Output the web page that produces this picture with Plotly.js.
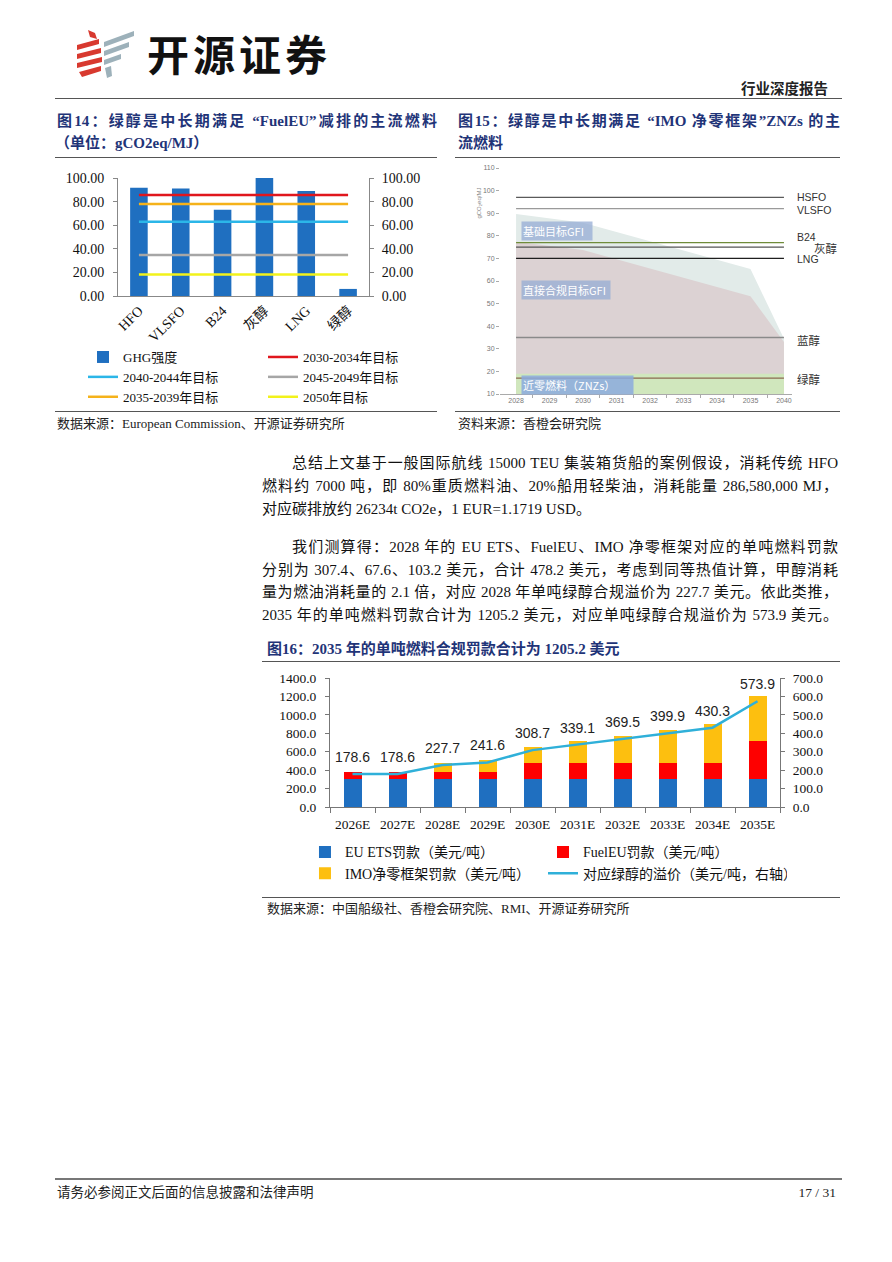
<!DOCTYPE html>
<html><head><meta charset="utf-8">
<script src="https://cdn.plot.ly/plotly-3.0.1.min.js"></script>
<style>
body{margin:0;background:#fff;}
#page{position:relative;width:892px;height:1262px;overflow:hidden;background:#fff;font-family:"Liberation Serif","Noto Sans CJK SC",serif;color:#111;}
.abs{position:absolute;white-space:nowrap;}
.hr{position:absolute;height:0;border-top:1px solid #555;}
.title{position:absolute;white-space:nowrap;font-weight:bold;color:#1f3478;font-size:15px;line-height:20px;}
.src{position:absolute;white-space:nowrap;font-size:13px;line-height:16px;color:#222;}
.ln{position:absolute;font-size:15px;line-height:22px;white-space:nowrap;color:#111;}
.j{text-align:justify;text-align-last:justify;}
.chart{position:absolute;}
</style></head>
<body>
<div id="page">
  <svg class="abs" style="left:0;top:0" width="892" height="100">
    <g fill="#d8392f">
      <polygon points="88,30 95,33 97,39 90,37"/>
      <polygon points="77,45 99,39 99,44 77,50"/>
      <polygon points="77,54 101,48 101,53 77,59"/>
      <polygon points="77,63 102,57 102,62 77,68"/>
      <polygon points="79,72 101,66 101,71 82,77"/>
    </g>
    <g fill="#9db1ba">
      <polygon points="104,42 134,31 134,36 104,47"/>
      <polygon points="104,51 129,42 129,47 104,56"/>
      <polygon points="104,60 121,54 121,59 104,65"/>
      <polygon points="105,68 111,66 112,76 107,78"/>
    </g>
  </svg>
  <div class="abs" style="left:147px;top:29px;font-family:'Noto Sans CJK SC';font-weight:bold;font-size:42px;line-height:48px;letter-spacing:4px;color:#111;">开源证券</div>
  <div class="abs" style="left:700px;width:128px;top:79px;text-align:right;font-family:'Noto Sans CJK SC';font-weight:bold;font-size:14.5px;line-height:18px;color:#222;">行业深度报告</div>
  <div class="hr" style="left:55px;width:787px;top:98px;border-top:1.5px solid #555;"></div>

  <!-- Figure 14 -->
  <div class="title j" style="left:57px;width:380px;top:111px;">图14：绿醇是中长期满足 “FuelEU”减排的主流燃料</div>
  <div class="title" style="left:55px;top:133px;">（单位：gCO2eq/MJ）</div>
  <div class="hr" style="left:55px;width:382px;top:157px;"></div>
  <div id="fig14" class="chart" style="left:9px;top:165px;width:446px;height:285px;"></div>
  <div class="hr" style="left:55px;width:382px;top:411px;"></div>
  <div class="src" style="left:57px;top:416px;">数据来源：European Commission、开源证券研究所</div>

  <!-- Figure 15 -->
  <div class="title j" style="left:458px;width:382px;top:111px;">图15：绿醇是中长期满足 “IMO 净零框架”ZNZs 的主</div>
  <div class="title" style="left:458px;top:133px;">流燃料</div>
  <div class="hr" style="left:455px;width:385px;top:157px;"></div>
  <div id="fig15" class="chart" style="left:455px;top:160px;width:385px;height:250px;"></div>
  <div class="hr" style="left:455px;width:385px;top:411px;"></div>
  <div class="src" style="left:458px;top:416px;">资料来源：香橙会研究院</div>

  <!-- Body text -->
  <div class="ln j" style="left:292px;width:546px;top:452px;">总结上文基于一般国际航线 15000 TEU 集装箱货船的案例假设，消耗传统 HFO</div>
  <div class="ln j" style="left:262px;width:576px;top:475px;">燃料约 7000 吨，即 80%重质燃料油、20%船用轻柴油，消耗能量 286,580,000 MJ，</div>
  <div class="ln" style="left:262px;top:498px;">对应碳排放约 26234t CO2e，1 EUR=1.1719 USD。</div>
  <div class="ln j" style="left:292px;width:546px;top:536px;">我们测算得：2028 年的 EU ETS、FuelEU、IMO 净零框架对应的单吨燃料罚款</div>
  <div class="ln j" style="left:262px;width:576px;top:559px;">分别为 307.4、67.6、103.2 美元，合计 478.2 美元，考虑到同等热值计算，甲醇消耗</div>
  <div class="ln j" style="left:262px;width:576px;top:581px;">量为燃油消耗量的 2.1 倍，对应 2028 年单吨绿醇合规溢价为 227.7 美元。依此类推，</div>
  <div class="ln j" style="left:262px;width:576px;top:604px;">2035 年的单吨燃料罚款合计为 1205.2 美元，对应单吨绿醇合规溢价为 573.9 美元。</div>

  <!-- Figure 16 -->
  <div class="title" style="left:267px;top:639px;">图16：2035 年的单吨燃料合规罚款合计为 1205.2 美元</div>
  <div class="hr" style="left:262px;width:578px;top:661px;"></div>
  <div id="fig16" class="chart" style="left:262px;top:668px;width:578px;height:262px;"></div>
  <div class="hr" style="left:262px;width:578px;top:897px;"></div>
  <div class="src" style="left:267px;top:901px;">数据来源：中国船级社、香橙会研究院、RMI、开源证券研究所</div>

  <!-- Footer -->
  <div class="hr" style="left:55px;width:787px;top:1178px;border-top:2px solid #777;"></div>
  <div class="src" style="left:57px;top:1185px;font-size:13.5px;">请务必参阅正文后面的信息披露和法律声明</div>
  <div class="src" style="left:760px;width:76px;top:1185px;text-align:right;font-size:13.5px;">17 / 31</div>
</div>

<script>
// ---------- Figure 14 data ----------
const fuels14 = ['HFO', 'VLSFO', 'B24', '灰醇', 'LNG', '绿醇'];
const ghg14 = [91.7, 91.2, 73.0, 100.0, 89.0, 6.0];
const targetNames14 = ['2030-2034年目标', '2040-2044年目标', '2045-2049年目标', '2035-2039年目标', '2050年目标'];
const targetValues14 = [85.69, 62.90, 34.64, 77.94, 18.23];
const targetColors14 = ['#e0161d', '#2bb6e8', '#a6a6a6', '#f5b21a', '#f2f21a'];

// ---------- Figure 15 data ----------
const years15 = ['2028', '2029', '2030', '2031', '2032', '2033', '2034', '2035', '2040'];
const baseGFI15 = [89.6, 87.7, 85.8, 81.7, 77.6, 73.5, 69.4, 65.3, 34.5];
const directGFI15 = [77.4, 75.6, 73.7, 69.6, 65.5, 61.4, 57.3, 53.2, 33.0];
const znz15 = [19.0, 19.0, 19.0, 19.0, 19.0, 19.0, 19.0, 19.0, 19.0];
const fuelNames15 = ['HSFO', 'VLSFO', 'B24', '灰醇', 'LNG', '蓝醇', '绿醇'];
const fuelGHG15 = [97, 92, 77, 75, 70, 35, 17];

// ---------- Figure 16 data ----------
const years16 = ['2026E', '2027E', '2028E', '2029E', '2030E', '2031E', '2032E', '2033E', '2034E', '2035E'];
const euEts16 = [307.4, 307.4, 307.4, 307.4, 307.4, 307.4, 307.4, 307.4, 307.4, 307.4];
const fuelEU16 = [67.6, 67.6, 67.6, 67.6, 172.6, 172.6, 172.6, 172.6, 172.6, 403.6];
const imo16 = [0, 0, 103.2, 132.4, 168.3, 232.1, 296.0, 359.8, 423.6, 494.2];
const premium16 = [178.6, 178.6, 227.7, 241.6, 308.7, 339.1, 369.5, 399.9, 430.3, 573.9];

const SERIF = '"Liberation Serif", "Noto Sans CJK SC", serif';
const cfg = {staticPlot: true, displayModeBar: false};

// ---------- Figure 14 ----------
(function () {
  const traces = [{
    type: 'bar', x: fuels14, y: ghg14, name: 'GHG强度',
    marker: {color: '#1f6fc0'}, yaxis: 'y'
  }];
  targetNames14.forEach((nm, i) => {
    traces.push({
      type: 'scatter', mode: 'lines', x: fuels14, y: fuels14.map(() => targetValues14[i]),
      name: nm, line: {color: targetColors14[i], width: 2.5}, yaxis: 'y2'
    });
  });
  const yax = {
    range: [0, 100], dtick: 20, tickformat: '.2f', showgrid: false, zeroline: false,
    showline: true, linecolor: '#888', linewidth: 1, ticks: 'outside', ticklen: 4, tickcolor: '#888',
    ticklabelstandoff: 6,
    tickfont: {family: SERIF, size: 14, color: '#111'}
  };
  const layout = {
    width: 446, height: 285, margin: {l: 109, r: 86, t: 13, b: 154},
    paper_bgcolor: 'rgba(0,0,0,0)', plot_bgcolor: 'rgba(0,0,0,0)',
    bargap: 0.58,
    xaxis: {
      type: 'category', tickangle: -45, showline: true, linecolor: '#888', ticks: '',
      tickfont: {family: SERIF, size: 14, color: '#111'}
    },
    yaxis: yax,
    yaxis2: Object.assign({}, yax, {overlaying: 'y', side: 'right', ticklabelstandoff: 5}),
    showlegend: true,
    legend: {
      orientation: 'h', xref: 'paper', yref: 'paper', x: -0.1394, y: -0.39,
      xanchor: 'left', yanchor: 'top', entrywidth: 0.5, entrywidthmode: 'fraction',
      font: {family: SERIF, size: 13, color: '#111'}, traceorder: 'normal',
      bgcolor: 'rgba(0,0,0,0)'
    }
  };
  Plotly.newPlot('fig14', traces, layout, cfg);
})();

// ---------- Figure 15 ----------
(function () {
  const traces = [
    {type: 'scatter', mode: 'lines', x: years15, y: baseGFI15, fill: 'tozeroy',
     fillcolor: '#e2ebe9', line: {width: 0}, showlegend: false},
    {type: 'scatter', mode: 'lines', x: years15, y: directGFI15, fill: 'tozeroy',
     fillcolor: '#dcd2d3', line: {width: 0}, showlegend: false},
    {type: 'scatter', mode: 'lines', x: years15, y: znz15, fill: 'tozeroy',
     fillcolor: '#d0e7bd', line: {width: 0}, showlegend: false}
  ];
  const lineColors = ['#5a5a5a', '#9a9a9a', '#6f8c3a', '#555555', '#1e1e1e', '#8a8a8a', '#8c6a52'];
  fuelNames15.forEach((nm, i) => {
    traces.push({type: 'scatter', mode: 'lines', x: years15, y: years15.map(() => fuelGHG15[i]),
      line: {color: lineColors[i], width: 1.3}, showlegend: false, name: nm});
  });
  const xr = [-0.48, 8.24];
  const toPaper = idx => (idx - xr[0]) / (xr[1] - xr[0]);
  const labelY = [97.3, 91.2, 79.5, 74.5, 69.8, 33.5, 16.3];
  const labelX = [8.33, 8.33, 8.33, 8.84, 8.33, 8.33, 8.33];
  const labelSize = [10.5, 10.5, 10.5, 11.5, 10.5, 11.5, 11.5];
  const ann = fuelNames15.map((nm, i) => ({
    xref: 'paper', yref: 'y', x: toPaper(labelX[i]), y: labelY[i], text: nm, showarrow: false,
    xanchor: 'left', yanchor: 'middle',
    font: {family: '"Liberation Sans", "Noto Sans CJK SC", sans-serif', size: labelSize[i], color: '#333'}
  }));
  const boxFont = {family: '"Noto Sans CJK SC", "Liberation Sans", sans-serif', size: 11, color: '#ffffff'};
  ann.push({xref: 'x', yref: 'y', x: 0.14, y: 82.2, text: '基础目标GFI', showarrow: false,
    xanchor: 'left', yanchor: 'middle', bgcolor: 'rgba(150,172,212,0.75)', font: boxFont,
    width: 68, align: 'left', borderpad: 1});
  ann.push({xref: 'x', yref: 'y', x: 0.14, y: 56.0, text: '直接合规目标GFI', showarrow: false,
    xanchor: 'left', yanchor: 'middle', bgcolor: 'rgba(150,172,212,0.75)', font: boxFont,
    width: 86, align: 'left', borderpad: 1});
  ann.push({xref: 'x', yref: 'y', x: 0.14, y: 13.8, text: '近零燃料（ZNZs）', showarrow: false,
    xanchor: 'left', yanchor: 'middle', bgcolor: 'rgba(140,170,222,0.85)', font: boxFont,
    width: 109, align: 'left', borderpad: 1});
  ann.push({xref: 'paper', yref: 'paper', x: -0.089, y: 0.92, text: 'gCO₂eq/MJ', textangle: -90,
    showarrow: false, font: {family: '"Liberation Sans", sans-serif', size: 6, color: '#888'}});
  const layout = {
    width: 385, height: 250, margin: {l: 45, r: 48, t: 8, b: 16},
    paper_bgcolor: 'rgba(0,0,0,0)', plot_bgcolor: 'rgba(0,0,0,0)',
    xaxis: {type: 'category', range: xr, showline: true, linecolor: '#aaa',
      ticks: 'outside', tickson: 'boundaries', ticklen: 3, tickcolor: '#aaa', showgrid: false,
      tickfont: {family: '"Liberation Sans", sans-serif', size: 7, color: '#777'}},
    yaxis: {range: [10, 110], dtick: 10, showline: false, showgrid: false, zeroline: false,
      ticks: 'outside', ticklen: 3, tickcolor: '#aaa',
      tickfont: {family: '"Liberation Sans", sans-serif', size: 7, color: '#777'}},
    annotations: ann, showlegend: false
  };
  Plotly.newPlot('fig15', traces, layout, cfg);
})();

// ---------- Figure 16 ----------
(function () {
  const traces = [
    {type: 'bar', x: years16, y: euEts16, name: 'EU ETS罚款（美元/吨）', marker: {color: '#1f6fc0'}},
    {type: 'bar', x: years16, y: fuelEU16, name: 'FuelEU罚款（美元/吨）', marker: {color: '#fe0000'}},
    {type: 'bar', x: years16, y: imo16, name: 'IMO净零框架罚款（美元/吨）', marker: {color: '#fdbf0f'}},
    {type: 'scatter', mode: 'lines', x: years16, y: premium16, yaxis: 'y2',
     name: '对应绿醇的溢价（美元/吨，右轴）', line: {color: '#2fb0d9', width: 2.5}}
  ];
  const ann = years16.map((yr, i) => ({
    xref: 'x', yref: 'y2', x: yr, y: premium16[i], text: premium16[i].toFixed(1),
    showarrow: false, yshift: 17, yanchor: 'middle', xanchor: 'center',
    font: {family: '"Liberation Sans", sans-serif', size: 14, color: '#222'}
  }));
  const tf = {family: SERIF, size: 13.5, color: '#111'};
  const layout = {
    width: 578, height: 262, margin: {l: 68, r: 60, t: 10, b: 123},
    paper_bgcolor: 'rgba(0,0,0,0)', plot_bgcolor: 'rgba(0,0,0,0)',
    barmode: 'stack', bargap: 0.6,
    xaxis: {type: 'category', tickangle: 0, showline: true, linecolor: '#777', ticks: 'outside', tickson: 'boundaries',
      ticklen: 5, tickcolor: '#777', ticklabelstandoff: 5, tickfont: {family: SERIF, size: 13.5, color: '#111'}},
    yaxis: {range: [0, 1400], dtick: 200, tickformat: '.1f', showgrid: false, zeroline: false,
      showline: true, linecolor: '#777', ticks: 'outside', ticklen: 4, tickcolor: '#777', tickfont: tf,
      ticklabelstandoff: 6},
    yaxis2: {range: [0, 700], dtick: 100, tickformat: '.1f', overlaying: 'y', side: 'right', showgrid: false,
      zeroline: false, showline: true, linecolor: '#777', ticks: 'outside', ticklen: 4, tickcolor: '#777', tickfont: tf,
      ticklabelstandoff: 5},
    annotations: ann,
    showlegend: true,
    legend: {
      orientation: 'h', xref: 'paper', yref: 'paper', x: -0.0556, y: -0.228,
      xanchor: 'left', yanchor: 'top', entrywidth: 0.4595, entrywidthmode: 'fraction',
      font: {family: SERIF, size: 14, color: '#111'}, traceorder: 'normal', bgcolor: 'rgba(0,0,0,0)'
    }
  };
  Plotly.newPlot('fig16', traces, layout, cfg);
})();
</script>
</body></html>
